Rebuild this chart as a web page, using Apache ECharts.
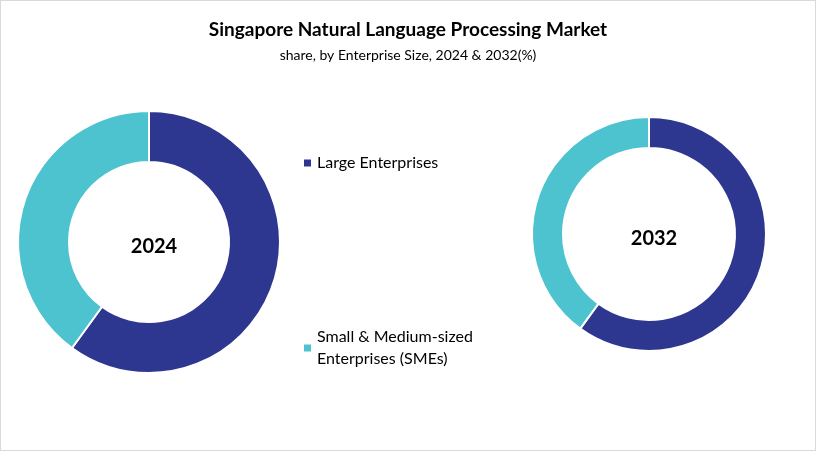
<!DOCTYPE html>
<html>
<head>
<meta charset="UTF-8">
<script src="https://cdn.jsdelivr.net/npm/echarts@6/dist/echarts.min.js"></script>
<style>
html,body{margin:0;padding:0;background:#fff;}
#box{width:814px;height:449px;border:1px solid #d9d9d9;}
</style>
</head>
<body>
<div id="box"></div>
<script>
var categories = ['Large Enterprises', 'Small & Medium-sized\nEnterprises (SMEs)'];
var years = ['2024', '2032'];
var share2024 = [60, 40];
var share2032 = [60, 40];
var colors = ['#2E3790', '#4DC3CF'];

var chart = echarts.init(document.getElementById('box'));
var font = 'Lato, "Open Sans", sans-serif';
function donut(name, vals, center, radius) {
    return {
        name: name,
        type: 'pie',
        center: center,
        radius: radius,
        startAngle: 90,
        clockwise: true,
        label: {show: false},
        labelLine: {show: false},
        emphasis: {disabled: true},
        itemStyle: {borderColor: '#fff', borderWidth: 2},
        data: vals.map(function (v, i) { return {name: categories[i], value: v}; })
    };
}
chart.setOption({
    color: colors,
    animation: false,
    title: [
        {text: 'Singapore Natural Language Processing Market', left: 'center', top: 14,
         textStyle: {fontFamily: font, fontSize: 19, fontWeight: 'bold', color: '#000'}},
        {text: 'share, by Enterprise Size, 2024 & 2032(%)', left: 'center', top: 42,
         textStyle: {fontFamily: font, fontSize: 14, fontWeight: 'normal', color: '#000'}},
        {text: years[0], left: 148, top: 241, textAlign: 'center', textVerticalAlign: 'middle',
         textStyle: {fontFamily: font, fontSize: 20, fontWeight: 'bold', color: '#000'}},
        {text: years[1], left: 648, top: 233, textAlign: 'center', textVerticalAlign: 'middle',
         textStyle: {fontFamily: font, fontSize: 20, fontWeight: 'bold', color: '#000'}}
    ],
    legend: {
        orient: 'vertical',
        left: 296,
        top: 146,
        itemGap: 152,
        itemWidth: 9,
        itemHeight: 9,
        icon: 'rect',
        selectedMode: false,
        data: categories,
        textStyle: {fontFamily: font, fontSize: 16, color: '#000', lineHeight: 22}
    },
    series: [
        donut(years[0], share2024, [148, 241], [80, 131]),
        donut(years[1], share2032, [648, 233], [86, 117])
    ]
});
</script>
</body>
</html>
